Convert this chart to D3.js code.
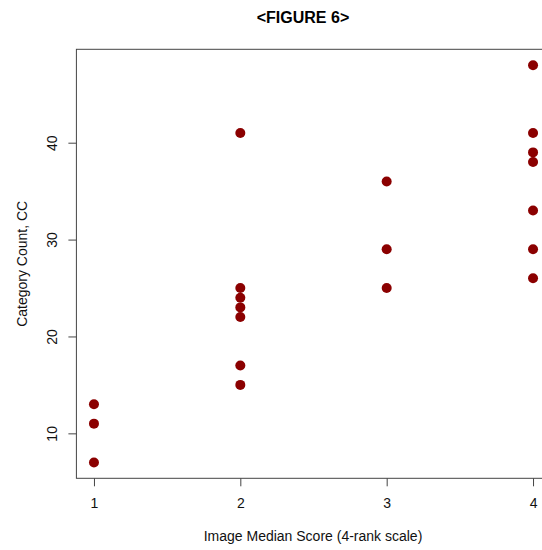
<!DOCTYPE html>
<html>
<head>
<meta charset="utf-8">
<script src="https://cdn.jsdelivr.net/npm/d3@7"></script>
<style>
  body { margin: 0; background: #fff; }
  svg { display: block; font-family: "Liberation Sans", Arial, sans-serif; }
</style>
</head>
<body>
<script>
const width = 542;
const height = 550;

// median score (x) and category count (y)
const scores = [1, 1, 1, 2, 2, 2, 2, 2, 2, 2, 3, 3, 3, 4, 4, 4, 4, 4, 4, 4];
const counts = [7, 11, 13, 41, 25, 24, 23, 22, 17, 15, 36, 29, 25, 48, 41, 39, 38, 33, 29, 26];
const xTicks = [1, 2, 3, 4];
const yTicks = [10, 20, 30, 40];

const points = scores.map((s, i) => ({ x: s, y: counts[i] }));

const plotLeft = 76.4, plotRight = 550.6, plotTop = 49.3, plotBottom = 478.3;

// R style 4% padding on each side
const x = d3.scaleLinear().domain([0.88, 4.12]).range([plotLeft, plotRight]);
const y = d3.scaleLinear().domain([5.36, 49.64]).range([plotBottom, plotTop]);

const svg = d3.select('body').append('svg')
  .attr('width', width)
  .attr('height', height);

svg.append('rect')
  .attr('x', plotLeft).attr('y', plotTop)
  .attr('width', plotRight - plotLeft).attr('height', plotBottom - plotTop)
  .attr('fill', 'none')
  .attr('stroke', '#444')
  .attr('stroke-width', 1);

const xAxis = svg.append('g')
  .attr('transform', `translate(0,${plotBottom})`)
  .call(d3.axisBottom(x).tickValues(xTicks).tickSize(8).tickSizeOuter(0).tickPadding(12).tickFormat(d3.format('d')));
xAxis.select('.domain').remove();
xAxis.selectAll('.tick line').attr('stroke', '#444');
xAxis.selectAll('text').attr('font-size', 14).attr('fill', '#111');

const yAxis = svg.append('g')
  .attr('transform', `translate(${plotLeft},0)`)
  .call(d3.axisLeft(y).tickValues(yTicks).tickSize(8).tickSizeOuter(0).tickFormat(d3.format('d')));
yAxis.select('.domain').remove();
yAxis.selectAll('.tick line').attr('stroke', '#444');
yAxis.selectAll('text')
  .attr('font-size', 14)
  .attr('fill', '#111')
  .attr('x', 0).attr('dy', 0)
  .attr('text-anchor', 'middle')
  .attr('transform', 'translate(-19,0) rotate(-90)');

svg.append('g')
  .selectAll('circle')
  .data(points)
  .enter().append('circle')
    .attr('cx', d => x(d.x))
    .attr('cy', d => y(d.y))
    .attr('r', 5)
    .attr('fill', '#8b0000');

svg.append('text')
  .attr('x', 303).attr('y', 23)
  .attr('text-anchor', 'middle')
  .attr('font-size', 16)
  .attr('font-weight', 'bold')
  .text('<FIGURE 6>');

svg.append('text')
  .attr('x', 313).attr('y', 541)
  .attr('text-anchor', 'middle')
  .attr('font-size', 14)
  .attr('fill', '#111')
  .text('Image Median Score (4-rank scale)');

svg.append('text')
  .attr('transform', `translate(27,${(plotTop + plotBottom) / 2}) rotate(-90)`)
  .attr('text-anchor', 'middle')
  .attr('font-size', 14)
  .attr('fill', '#111')
  .text('Category Count, CC');
</script>
</body>
</html>
